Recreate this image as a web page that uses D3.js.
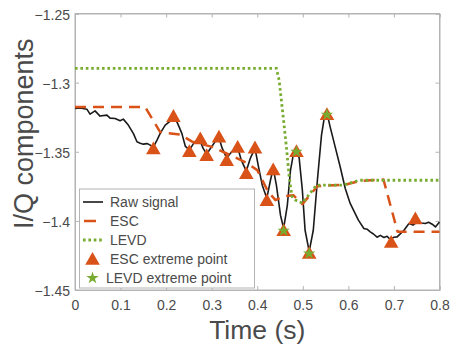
<!DOCTYPE html>
<html>
<head>
<meta charset="utf-8">
<script src="https://cdn.jsdelivr.net/npm/d3@7"></script>
<style>
  html, body { margin: 0; padding: 0; background: #fff; }
  svg { display: block; font-family: "Liberation Sans", Arial, sans-serif; }
</style>
</head>
<body>
<svg id="chart" width="452" height="346"></svg>
<script>
// ---- data ----
const xTicks = [0, 0.1, 0.2, 0.3, 0.4, 0.5, 0.6, 0.7, 0.8];
const xTickLabels = ["0", "0.1", "0.2", "0.3", "0.4", "0.5", "0.6", "0.7", "0.8"];
const yTicks = [-1.25, -1.3, -1.35, -1.4, -1.45];
const yTickLabels = ["\u22121.25", "\u22121.3", "\u22121.35", "\u22121.4", "\u22121.45"];

const rawT = [0, 0.011, 0.026, 0.033, 0.044, 0.055, 0.070, 0.077, 0.088, 0.099, 0.106, 0.117, 0.128, 0.136, 0.143, 0.150, 0.158, 0.165, 0.172, 0.180, 0.187, 0.198, 0.209, 0.216, 0.224, 0.2345, 0.242, 0.251, 0.262, 0.273, 0.281, 0.289, 0.299, 0.310, 0.316, 0.323, 0.333, 0.343, 0.357, 0.365, 0.376, 0.385, 0.395, 0.402, 0.411, 0.421, 0.429, 0.435, 0.442, 0.451, 0.458, 0.466, 0.473, 0.479, 0.486, 0.492, 0.499, 0.505, 0.514, 0.523, 0.532, 0.541, 0.547, 0.553, 0.560, 0.571, 0.582, 0.593, 0.604, 0.615, 0.622, 0.634, 0.641, 0.648, 0.655, 0.663, 0.670, 0.678, 0.685, 0.692, 0.700, 0.707, 0.715, 0.722, 0.733, 0.742, 0.751, 0.760, 0.769, 0.776, 0.784, 0.791, 0.8];
const rawV = [-1.3186, -1.3184, -1.3192, -1.3228, -1.3204, -1.3242, -1.3235, -1.3257, -1.3259, -1.3276, -1.3264, -1.3307, -1.3367, -1.3428, -1.3438, -1.3445, -1.3441, -1.3452, -1.3467, -1.3416, -1.3367, -1.3307, -1.3278, -1.3257, -1.3286, -1.3367, -1.3459, -1.3488, -1.3430, -1.3405, -1.3474, -1.3517, -1.3467, -1.3416, -1.3398, -1.3474, -1.3546, -1.3503, -1.3467, -1.3561, -1.3640, -1.3546, -1.3474, -1.3597, -1.3742, -1.3836, -1.3706, -1.3619, -1.3742, -1.3959, -1.4053, -1.3887, -1.3633, -1.3525, -1.3488, -1.3546, -1.3778, -1.4068, -1.4220, -1.4068, -1.3706, -1.3380, -1.3257, -1.3220, -1.3320, -1.3465, -1.3609, -1.3764, -1.3874, -1.3947, -1.3995, -1.4055, -1.4060, -1.4080, -1.4095, -1.4118, -1.4105, -1.4120, -1.4112, -1.4135, -1.4118, -1.4116, -1.4090, -1.4068, -1.4019, -1.4030, -1.4008, -1.4015, -1.4019, -1.4010, -1.4024, -1.4044, -1.4008];

const escT = [0, 0.154, 0.187, 0.231, 0.257, 0.301, 0.341, 0.378, 0.400, 0.413, 0.424, 0.440, 0.457, 0.479, 0.499, 0.532, 0.593, 0.626, 0.677, 0.708, 0.8];
const escV = [-1.3177, -1.3177, -1.3358, -1.3376, -1.3427, -1.3465, -1.3525, -1.3583, -1.3633, -1.3718, -1.3790, -1.3850, -1.3822, -1.3814, -1.3879, -1.3749, -1.3738, -1.3711, -1.3701, -1.4079, -1.4079];

const levdT = [0, 0.442, 0.448, 0.457, 0.464, 0.470, 0.476, 0.484, 0.499, 0.530, 0.587, 0.624, 0.8];
const levdV = [-1.2897, -1.2897, -1.2982, -1.3249, -1.3467, -1.3677, -1.3822, -1.3850, -1.3872, -1.3742, -1.3742, -1.3706, -1.3706];

const escExtT = [0.172, 0.216, 0.251, 0.275, 0.289, 0.316, 0.333, 0.357, 0.376, 0.395, 0.421, 0.435, 0.458, 0.486, 0.514, 0.553, 0.694, 0.747];
const escExtV = [-1.3476, -1.3242, -1.3496, -1.3404, -1.3525, -1.3392, -1.3561, -1.3465, -1.3655, -1.3470, -1.3850, -1.3628, -1.4068, -1.3496, -1.4232, -1.3228, -1.4152, -1.3983];

const levdExtT = [0.458, 0.486, 0.514, 0.553];
const levdExtV = [-1.4068, -1.3496, -1.4232, -1.3228];

const legendLabels = ["Raw signal", "ESC", "LEVD", "ESC extreme point", "LEVD extreme point"];

// ---- styles ----
const C_RAW = "#1a1a1a", C_ESC = "#d95319", C_LEVD = "#77ac30";
const C_AXIS = "#b4b4b4", C_TEXT = "#4a4a4a";

const svg = d3.select("#chart");
const L = 75, R = 439.5, T = 13.5, B = 290;
const x = d3.scaleLinear().domain([0, 0.8]).range([L, R]);
const y = d3.scaleLinear().domain([-1.45, -1.25]).range([B, T]);

// box
svg.append("rect").attr("x", L).attr("y", T).attr("width", R - L).attr("height", B - T)
  .attr("fill", "none").attr("stroke", C_AXIS).attr("stroke-width", 1);

// axes (ticks inward)
const fmtX = (d, i) => xTickLabels[i];
const fmtY = (d, i) => yTickLabels[i];
const axB = svg.append("g").attr("transform", `translate(0,${B})`)
  .call(d3.axisBottom(x).tickValues(xTicks).tickFormat(fmtX).tickSize(-4).tickPadding(9));
const axT = svg.append("g").attr("transform", `translate(0,${T})`)
  .call(d3.axisTop(x).tickValues(xTicks).tickFormat("").tickSize(-4));
const axL = svg.append("g").attr("transform", `translate(${L},0)`)
  .call(d3.axisLeft(y).tickValues(yTicks).tickFormat(fmtY).tickSize(-4).tickPadding(9));
const axR = svg.append("g").attr("transform", `translate(${R},0)`)
  .call(d3.axisRight(y).tickValues(yTicks).tickFormat("").tickSize(-4));
[axB, axT, axL, axR].forEach(g => {
  g.select(".domain").attr("stroke", C_AXIS);
  g.selectAll(".tick line").attr("stroke", C_AXIS);
  g.selectAll(".tick text").attr("fill", C_TEXT).attr("font-size", 14)
    .attr("font-family", "Liberation Sans, Arial, sans-serif");
});
axL.selectAll(".tick text").attr("x", -5).attr("dy", "0.4em");
axB.selectAll(".tick text").attr("dy", "0.75em");

// axis labels
svg.append("text").attr("x", (L + R) / 2 + 0).attr("y", 339).attr("text-anchor", "middle")
  .attr("font-size", 26.5).attr("fill", C_TEXT).text("Time (s)");
svg.append("text").attr("transform", `translate(33,${(T + B) / 2 - 18}) rotate(-90)`)
  .attr("text-anchor", "middle").attr("font-size", 27).attr("fill", C_TEXT).text("I/Q components");

// lines
const line = d3.line().x(d => x(d[0])).y(d => y(d[1]));
const zip = (a, b) => a.map((v, i) => [v, b[i]]);

const plot = svg.append("g");
plot.append("path").datum(zip(rawT, rawV)).attr("d", line)
  .attr("fill", "none").attr("stroke", C_RAW).attr("stroke-width", 1.6).attr("stroke-linejoin", "round");
plot.append("path").datum(zip(escT, escV)).attr("d", line)
  .attr("fill", "none").attr("stroke", C_ESC).attr("stroke-width", 2.5)
  .attr("stroke-dasharray", "11,7").attr("stroke-linejoin", "round");
plot.append("path").datum(zip(levdT, levdV)).attr("d", line)
  .attr("fill", "none").attr("stroke", C_LEVD).attr("stroke-width", 2.8)
  .attr("stroke-dasharray", "2.6,2.8");

// markers
const triPath = "M0,-7L7.3,5.8L-7.3,5.8Z";
plot.selectAll(".tri").data(zip(escExtT, escExtV)).join("path").attr("class", "tri")
  .attr("d", triPath).attr("transform", d => `translate(${x(d[0])},${y(d[1])})`)
  .attr("fill", C_ESC);
const star = d3.symbol().type(d3.symbolStar).size(48);
plot.selectAll(".star").data(zip(levdExtT, levdExtV)).join("path").attr("class", "star")
  .attr("d", star).attr("transform", d => `translate(${x(d[0])},${y(d[1]) + 0.5})`)
  .attr("fill", C_LEVD);

// legend
const lg = svg.append("g");
lg.append("rect").attr("x", 79.5).attr("y", 189).attr("width", 175).attr("height", 99)
  .attr("fill", "#fff").attr("stroke", C_AXIS).attr("stroke-width", 1);
const rowY = [202, 221, 240, 259, 278];
lg.append("line").attr("x1", 83).attr("x2", 103).attr("y1", rowY[0]).attr("y2", rowY[0])
  .attr("stroke", C_RAW).attr("stroke-width", 1.6);
lg.append("line").attr("x1", 84).attr("x2", 96).attr("y1", rowY[1]).attr("y2", rowY[1])
  .attr("stroke", C_ESC).attr("stroke-width", 2.5);
lg.append("line").attr("x1", 83).attr("x2", 104).attr("y1", rowY[2]).attr("y2", rowY[2])
  .attr("stroke", C_LEVD).attr("stroke-width", 2.8).attr("stroke-dasharray", "2.6,2.8");
lg.append("path").attr("d", triPath).attr("transform", `translate(92.5,${rowY[3]})`).attr("fill", C_ESC);
lg.append("path").attr("d", star).attr("transform", `translate(92.5,${rowY[4]})`).attr("fill", C_LEVD);
const textX = [110, 110, 110, 110, 106];
lg.selectAll(".lt").data(legendLabels).join("text").attr("class", "lt")
  .attr("x", (d, i) => textX[i]).attr("y", (d, i) => rowY[i] + 5)
  .attr("font-size", 14).attr("fill", C_TEXT).text(d => d);
</script>
</body>
</html>
